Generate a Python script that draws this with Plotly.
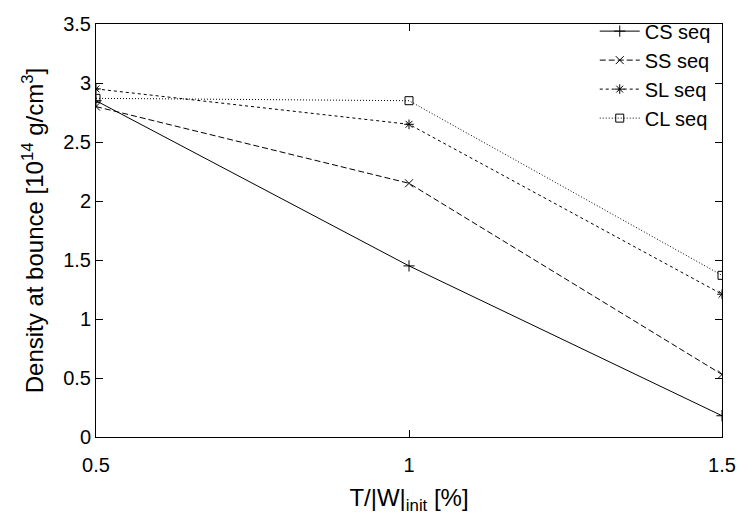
import plotly.graph_objects as go

x_vals = [0.5, 1.0, 1.5]
cs_seq = [2.85, 1.45, 0.18]
ss_seq = [2.80, 2.15, 0.53]
sl_seq = [2.95, 2.65, 1.21]
cl_seq = [2.87, 2.85, 1.37]

series_names = ["CS seq", "SS seq", "SL seq", "CL seq"]
x_ticks = [0.5, 1, 1.5]
x_tick_text = ["0.5", "1", "1.5"]
y_ticks = [0, 0.5, 1, 1.5, 2, 2.5, 3, 3.5]
y_tick_text = ["0", "0.5", "1", "1.5", "2", "2.5", "3", "3.5"]

styles = [
    dict(dash="solid", symbol="cross-thin"),
    dict(dash="6px,3px", symbol="x-thin"),
    dict(dash="3px,3px", symbol="asterisk-open"),
    dict(dash="1px,2px", symbol="square-open"),
]

fig = go.Figure()
for name, ys, st in zip(series_names, [cs_seq, ss_seq, sl_seq, cl_seq], styles):
    fig.add_trace(go.Scatter(
        x=x_vals, y=ys, name=name, mode="lines+markers",
        line=dict(color="black", width=1, dash=st["dash"]),
        marker=dict(symbol=st["symbol"], size=8, color="black",
                    line=dict(color="black", width=1)),
    ))

font = "Liberation Sans, Arial, sans-serif"
fig.update_layout(
    width=748, height=527,
    margin=dict(l=96, r=21, t=12, b=90),
    paper_bgcolor="white", plot_bgcolor="white",
    font=dict(family=font, size=20, color="black"),
    showlegend=True,
    legend=dict(x=0.99, y=1.03, xanchor="right", yanchor="top",
                bgcolor="rgba(0,0,0,0)", font=dict(size=20),
                tracegroupgap=0, itemwidth=40),
    xaxis=dict(range=[0.5, 1.5], tickvals=x_ticks, ticktext=x_tick_text,
               showgrid=False, zeroline=False, showline=True, linecolor="black",
               linewidth=1, mirror="ticks", ticks="inside", ticklen=7,
               tickcolor="black", ticklabelstandoff=10,
               title=dict(text="T/|W|<sub>init</sub> [%]", standoff=14)),
    yaxis=dict(range=[0, 3.5], tickvals=y_ticks, ticktext=y_tick_text,
               showgrid=False, zeroline=False, showline=True, linecolor="black",
               linewidth=1, mirror="ticks", ticks="inside", ticklen=7,
               tickcolor="black",
               title=dict(text="Density at bounce [10<sup>14</sup> g/cm<sup>3</sup>]",
                          standoff=12)),
)

fig.write_html("out.html")
